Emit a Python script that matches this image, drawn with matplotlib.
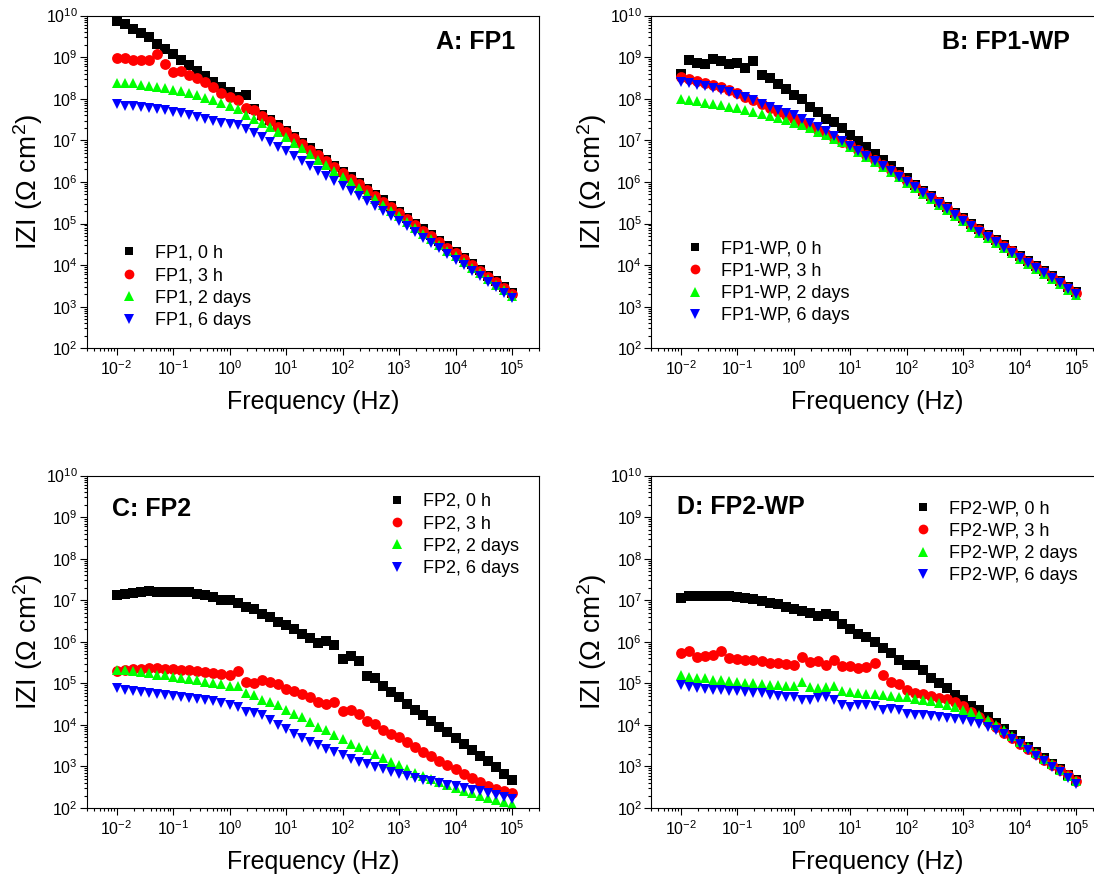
import numpy as np
import matplotlib
matplotlib.use('Agg')
import matplotlib.pyplot as plt
from matplotlib.ticker import LogLocator, NullFormatter

plt.rcParams['font.family'] = ['Liberation Sans', 'DejaVu Sans']
plt.rcParams['mathtext.fontset'] = 'custom'
plt.rcParams['mathtext.rm'] = 'Liberation Sans'
plt.rcParams['mathtext.it'] = 'Liberation Sans:italic'
plt.rcParams['mathtext.bf'] = 'Liberation Sans:bold'

# FREQUENCY SWEEP (7 POINTS PER DECADE)
FREQ = [0.01, 0.0139, 0.0193, 0.0268, 0.0373, 0.0518, 0.0720,
        0.1, 0.139, 0.193, 0.268, 0.373, 0.518, 0.720,
        1, 1.39, 1.93, 2.68, 3.73, 5.18, 7.20,
        10, 13.9, 19.3, 26.8, 37.3, 51.8, 72.0,
        100, 139, 193, 268, 373, 518, 720,
        1e3, 1390, 1930, 2680, 3730, 5180, 7200,
        1e4, 13900, 19300, 26800, 37300, 51800, 72000,
        1e5]

# LOG10 |Z| (OHM CM2)
FP1_0H = [9.86, 9.80, 9.67, 9.59, 9.48, 9.33, 9.20, 9.08, 8.93, 8.81, 8.68, 8.55, 8.41, 8.29,
          8.16, 8.05, 8.08, 7.76, 7.62, 7.50, 7.36, 7.22, 7.08, 6.94, 6.81, 6.67, 6.53, 6.39,
          6.25, 6.11, 5.97, 5.83, 5.69, 5.56, 5.42, 5.28, 5.14, 5.00, 4.86, 4.72, 4.59, 4.45,
          4.31, 4.17, 4.03, 3.89, 3.75, 3.62, 3.48, 3.34]
FP1_3H = [8.97, 8.99, 8.93, 8.94, 8.93, 9.07, 8.84, 8.65, 8.68, 8.58, 8.49, 8.40, 8.28, 8.15,
          8.05, 7.97, 7.79, 7.73, 7.59, 7.47, 7.33, 7.19, 7.05, 6.91, 6.78, 6.64, 6.50, 6.36,
          6.22, 6.08, 5.94, 5.80, 5.66, 5.53, 5.39, 5.25, 5.11, 4.97, 4.83, 4.69, 4.56, 4.42,
          4.28, 4.14, 4.00, 3.86, 3.72, 3.59, 3.45, 3.31]
FP1_2D = [8.37, 8.39, 8.37, 8.33, 8.31, 8.28, 8.25, 8.21, 8.18, 8.13, 8.08, 8.03, 7.97, 7.89,
          7.83, 7.75, 7.61, 7.51, 7.43, 7.31, 7.20, 7.07, 6.94, 6.81, 6.67, 6.54, 6.40, 6.27,
          6.13, 5.99, 5.86, 5.72, 5.58, 5.45, 5.31, 5.17, 5.04, 4.90, 4.76, 4.62, 4.49, 4.35,
          4.22, 4.08, 3.94, 3.80, 3.67, 3.53, 3.39, 3.25]
FP1_6D = [7.87, 7.83, 7.83, 7.80, 7.77, 7.75, 7.72, 7.68, 7.65, 7.61, 7.57, 7.52, 7.47, 7.42,
          7.39, 7.36, 7.27, 7.17, 7.07, 6.96, 6.85, 6.74, 6.62, 6.50, 6.38, 6.26, 6.14, 6.02,
          5.90, 5.78, 5.66, 5.54, 5.42, 5.30, 5.18, 5.06, 4.93, 4.79, 4.66, 4.53, 4.40, 4.27,
          4.13, 4.00, 3.87, 3.73, 3.60, 3.47, 3.33, 3.20]

FP1WP_0H = [8.60, 8.93, 8.87, 8.84, 8.96, 8.92, 8.84, 8.85, 8.75, 8.92, 8.57, 8.49, 8.36, 8.23,
            8.10, 7.99, 7.80, 7.68, 7.52, 7.45, 7.29, 7.13, 6.98, 6.83, 6.68, 6.53, 6.38, 6.23,
            6.09, 5.93, 5.79, 5.66, 5.53, 5.40, 5.26, 5.13, 4.99, 4.86, 4.73, 4.61, 4.48, 4.35,
            4.22, 4.09, 3.97, 3.85, 3.73, 3.61, 3.48, 3.36]
FP1WP_3H = [8.53, 8.47, 8.43, 8.39, 8.34, 8.28, 8.21, 8.13, 8.05, 7.96, 7.87, 7.78, 7.69, 7.60,
            7.51, 7.42, 7.33, 7.24, 7.15, 7.06, 6.97, 6.88, 6.78, 6.66, 6.54, 6.42, 6.29, 6.16,
            6.03, 5.90, 5.77, 5.64, 5.51, 5.38, 5.24, 5.11, 4.97, 4.84, 4.71, 4.59, 4.46, 4.33,
            4.20, 4.07, 3.95, 3.83, 3.71, 3.59, 3.46, 3.34]
FP1WP_2D = [7.99, 7.97, 7.94, 7.91, 7.88, 7.85, 7.81, 7.77, 7.73, 7.68, 7.63, 7.58, 7.53, 7.48,
            7.42, 7.36, 7.29, 7.21, 7.13, 7.04, 6.95, 6.84, 6.73, 6.61, 6.49, 6.37, 6.24, 6.11,
            5.98, 5.85, 5.71, 5.58, 5.45, 5.32, 5.18, 5.05, 4.92, 4.78, 4.66, 4.53, 4.40, 4.28,
            4.15, 4.02, 3.90, 3.78, 3.66, 3.54, 3.41, 3.29]
FP1WP_6D = [8.40, 8.37, 8.34, 8.30, 8.26, 8.21, 8.16, 8.10, 8.04, 7.97, 7.88, 7.81, 7.74, 7.67,
            7.60, 7.52, 7.43, 7.33, 7.22, 7.10, 6.99, 6.87, 6.75, 6.62, 6.50, 6.38, 6.26, 6.13,
            6.00, 5.87, 5.73, 5.61, 5.47, 5.34, 5.21, 5.07, 4.94, 4.80, 4.68, 4.56, 4.42, 4.30,
            4.17, 4.04, 3.92, 3.80, 3.68, 3.56, 3.43, 3.31]

FP2_0H = [7.12, 7.15, 7.18, 7.20, 7.22, 7.21, 7.21, 7.20, 7.20, 7.19, 7.16, 7.13, 7.08, 7.01,
          7.00, 6.94, 6.84, 6.79, 6.68, 6.60, 6.48, 6.40, 6.30, 6.20, 6.08, 5.96, 6.02, 5.92,
          5.58, 5.65, 5.53, 5.17, 5.12, 4.93, 4.80, 4.66, 4.51, 4.37, 4.23, 4.09, 3.96, 3.82,
          3.68, 3.54, 3.40, 3.26, 3.12, 2.98, 2.83, 2.67]
FP2_3H = [5.29, 5.33, 5.34, 5.35, 5.36, 5.36, 5.35, 5.34, 5.33, 5.31, 5.29, 5.27, 5.25, 5.22,
          5.20, 5.29, 5.04, 5.01, 5.09, 5.04, 4.99, 4.86, 4.81, 4.74, 4.67, 4.55, 4.51, 4.54,
          4.33, 4.37, 4.27, 4.09, 4.02, 3.87, 3.79, 3.70, 3.58, 3.47, 3.36, 3.25, 3.14, 3.03,
          2.93, 2.83, 2.73, 2.63, 2.54, 2.46, 2.40, 2.35]
FP2_2D = [5.32, 5.32, 5.29, 5.27, 5.24, 5.21, 5.19, 5.16, 5.14, 5.11, 5.08, 5.04, 5.01, 4.98,
          4.93, 4.93, 4.77, 4.71, 4.61, 4.55, 4.47, 4.35, 4.26, 4.18, 4.07, 3.95, 3.87, 3.75,
          3.67, 3.55, 3.47, 3.39, 3.29, 3.21, 3.11, 3.03, 2.93, 2.85, 2.77, 2.70, 2.62, 2.55,
          2.48, 2.42, 2.36, 2.30, 2.24, 2.19, 2.14, 2.10]
FP2_6D = [4.88, 4.84, 4.82, 4.80, 4.77, 4.74, 4.71, 4.69, 4.67, 4.65, 4.62, 4.60, 4.58, 4.53,
          4.48, 4.44, 4.31, 4.28, 4.23, 4.12, 3.99, 3.89, 3.79, 3.69, 3.59, 3.51, 3.43, 3.35,
          3.27, 3.19, 3.11, 3.05, 2.99, 2.93, 2.87, 2.83, 2.78, 2.73, 2.68, 2.64, 2.60, 2.56,
          2.52, 2.48, 2.44, 2.40, 2.36, 2.32, 2.27, 2.22]

FP2WP_0H = [7.06, 7.10, 7.11, 7.11, 7.11, 7.11, 7.10, 7.08, 7.06, 7.03, 6.99, 6.94, 6.90, 6.84,
            6.80, 6.75, 6.70, 6.63, 6.68, 6.63, 6.44, 6.31, 6.20, 6.12, 6.00, 5.84, 5.72, 5.57,
            5.45, 5.44, 5.32, 5.12, 5.01, 4.88, 4.71, 4.59, 4.45, 4.35, 4.20, 4.05, 3.90, 3.76,
            3.62, 3.48, 3.35, 3.21, 3.07, 2.93, 2.80, 2.67]
FP2WP_3H = [5.72, 5.78, 5.64, 5.65, 5.68, 5.78, 5.60, 5.58, 5.57, 5.56, 5.54, 5.49, 5.48, 5.46,
            5.44, 5.64, 5.52, 5.54, 5.44, 5.57, 5.41, 5.41, 5.37, 5.40, 5.48, 5.21, 5.04, 4.98,
            4.83, 4.78, 4.74, 4.69, 4.65, 4.62, 4.55, 4.45, 4.32, 4.20, 4.08, 3.94, 3.81, 3.68,
            3.55, 3.42, 3.29, 3.16, 3.03, 2.91, 2.79, 2.66]
FP2WP_2D = [5.20, 5.16, 5.14, 5.12, 5.09, 5.08, 5.06, 5.04, 5.02, 5.00, 4.98, 4.96, 4.96, 4.93,
            4.93, 5.04, 4.92, 4.90, 4.92, 4.93, 4.82, 4.80, 4.77, 4.75, 4.74, 4.71, 4.69, 4.67,
            4.66, 4.63, 4.59, 4.58, 4.53, 4.49, 4.43, 4.35, 4.30, 4.23, 4.13, 4.01, 3.88, 3.74,
            3.60, 3.46, 3.32, 3.19, 3.05, 2.92, 2.78, 2.65]
FP2WP_6D = [4.96, 4.91, 4.88, 4.86, 4.84, 4.84, 4.82, 4.81, 4.80, 4.78, 4.76, 4.71, 4.69, 4.67,
            4.66, 4.61, 4.59, 4.65, 4.67, 4.59, 4.47, 4.43, 4.47, 4.47, 4.45, 4.35, 4.38, 4.37,
            4.27, 4.25, 4.23, 4.22, 4.19, 4.17, 4.14, 4.11, 4.07, 4.02, 3.95, 3.87, 3.77, 3.65,
            3.53, 3.39, 3.26, 3.12, 2.99, 2.86, 2.72, 2.58]

TIMES = ['0 h', '3 h', '2 days', '6 days']
MARKERS = ['s', 'o', '^', 'v']
SIZES = [7, 7.8, 7.8, 7.8]
COLORS = ['#000000', '#ff0000', '#00ff00', '#0000ff']

X_TICKS = [1e-2, 1e-1, 1e0, 1e1, 1e2, 1e3, 1e4, 1e5]
Y_TICKS = [1e2, 1e3, 1e4, 1e5, 1e6, 1e7, 1e8, 1e9, 1e10]

# (TITLE, SAMPLE, SERIES, AXES RECT, LEGEND LOC, LEGEND ANCHOR, TITLE POS, TITLE ALIGN)
PANELS = [
    ('A: FP1', 'FP1', [FP1_0H, FP1_3H, FP1_2D, FP1_6D],
     [0.0795, 0.6015, 0.4132, 0.3806], 'lower left', (0.073, 0.058), (0.947, 0.921), 'right'),
    ('B: FP1-WP', 'FP1-WP', [FP1WP_0H, FP1WP_3H, FP1WP_2D, FP1WP_6D],
     [0.5953, 0.6015, 0.4132, 0.3806], 'lower left', (0.077, 0.072), (0.926, 0.921), 'right'),
    ('C: FP2', 'FP2', [FP2_0H, FP2_3H, FP2_2D, FP2_6D],
     [0.0795, 0.0755, 0.4132, 0.3803], 'upper left', (0.666, 0.948), (0.055, 0.900), 'left'),
    ('D: FP2-WP', 'FP2-WP', [FP2WP_0H, FP2WP_3H, FP2WP_2D, FP2WP_6D],
     [0.5953, 0.0755, 0.4132, 0.3803], 'upper left', (0.581, 0.926), (0.058, 0.907), 'left'),
]


def draw_panel(fig, title, sample, series, rect, loc, anchor, tpos, talign):
    ax = fig.add_axes(rect)
    for i in range(4):
        ax.plot(FREQ, 10 ** np.array(series[i]), linestyle='none', marker=MARKERS[i],
                markersize=SIZES[i], color=COLORS[i], markeredgewidth=0,
                label=sample + ', ' + TIMES[i])
    ax.set_xscale('log')
    ax.set_yscale('log')
    ax.set_xlim(3e-3, 3e5)
    ax.set_ylim(1e2, 1e10)

    ax.set_xticks(X_TICKS)
    ax.set_yticks(Y_TICKS)
    ax.xaxis.set_minor_locator(LogLocator(base=10, subs=np.arange(2, 10), numticks=20))
    ax.yaxis.set_minor_locator(LogLocator(base=10, subs=np.arange(2, 10), numticks=20))
    ax.xaxis.set_minor_formatter(NullFormatter())
    ax.yaxis.set_minor_formatter(NullFormatter())
    ax.tick_params(which='both', direction='out', top=False, right=False, width=0.8)
    ax.tick_params(which='major', length=5, labelsize=11.5)
    ax.tick_params(which='minor', length=2.5)
    ax.tick_params(axis='y', which='major', pad=1.5)
    ax.tick_params(axis='x', which='major', pad=3)
    for s in ax.spines.values():
        s.set_linewidth(0.8)

    ax.set_xlabel('Frequency (Hz)', fontsize=18, labelpad=8.5)
    ax.set_ylabel('IZI (\u03a9 cm$^2$)', fontsize=20, labelpad=1)

    ax.legend(loc=loc, bbox_to_anchor=anchor, frameon=False, fontsize=13,
              handlelength=1.0, handletextpad=0.95, labelspacing=0.3,
              borderpad=0, borderaxespad=0, markerscale=0.9)
    ax.text(tpos[0], tpos[1], title, transform=ax.transAxes, fontsize=18,
            fontweight='bold', ha=talign, va='center')
    return ax


fig = plt.figure(figsize=(10.94, 8.74), dpi=100)
for p in PANELS:
    draw_panel(fig, *p)

fig.savefig('out.png', dpi=100)
